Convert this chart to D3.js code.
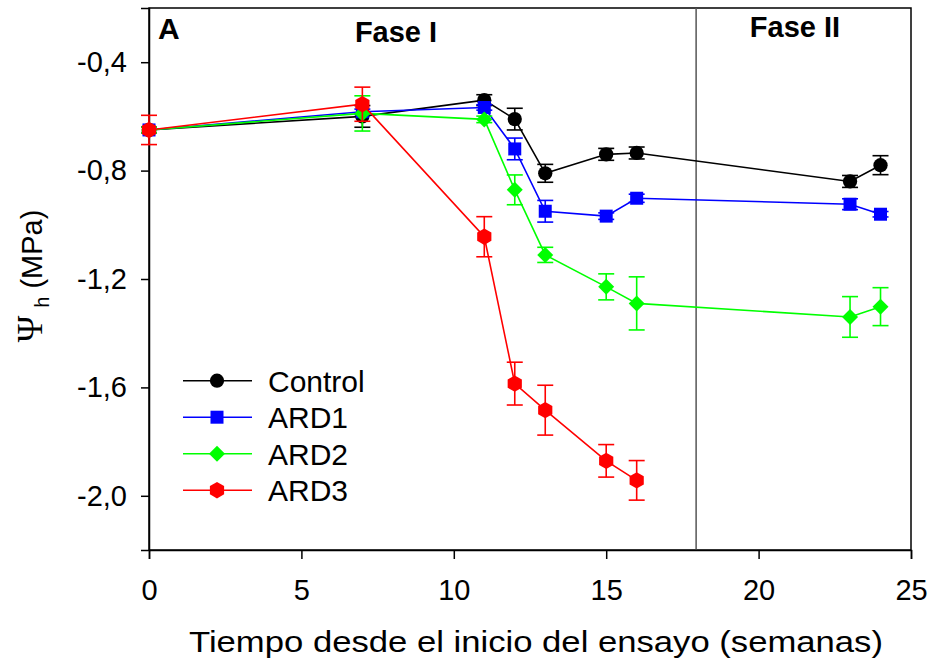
<!DOCTYPE html>
<html>
<head>
<meta charset="utf-8">
<script src="https://cdn.jsdelivr.net/npm/d3@7"></script>
<style>
  body { margin: 0; background: #fff; }
  text { font-family: "Liberation Sans", Arial, sans-serif; }
</style>
</head>
<body>
<script>
// weeks since start of trial
const weeks = [0, 7, 11, 12, 13, 15, 16, 23, 24];
const weeksArd3 = [0, 7, 11, 12, 13, 15, 16];

// water potential (MPa) and error
const control = [-0.65, -0.60, -0.54, -0.61, -0.81, -0.74, -0.735, -0.84, -0.78];
const controlErr = [0.01, 0.04, 0.02, 0.04, 0.033, 0.022, 0.022, 0.022, 0.035];
const ard1 = [-0.65, -0.583, -0.567, -0.72, -0.95, -0.968, -0.902, -0.924, -0.961];
const ard1Err = [0.01, 0.01, 0.01, 0.04, 0.04, 0.012, 0.015, 0.02, 0.01];
const ard2 = [-0.65, -0.589, -0.611, -0.871, -1.111, -1.229, -1.29, -1.34, -1.302];
const ard2Err = [0.01, 0.065, 0.012, 0.055, 0.028, 0.048, 0.098, 0.075, 0.07];
const ard3 = [-0.65, -0.555, -1.044, -1.586, -1.684, -1.871, -1.943];
const ard3Err = [0.054, 0.063, 0.074, 0.079, 0.092, 0.06, 0.073];

const xTicks = [0, 5, 10, 15, 20, 25];
const yTicks = [-0.4, -0.8, -1.2, -1.6, -2.0];
const phaseSplit = 17.95;

let margin = {top: 8, right: 22, bottom: 116, left: 149};
let width = 933 - margin.left - margin.right;
let height = 666 - margin.top - margin.bottom;

let x = d3.scaleLinear().domain([0, 25]).range([0, width]);
let y = d3.scaleLinear().domain([-2.2, -0.2]).range([height, 0]);

// custom marker shapes
const hexagon = {
  draw(ctx, size) {
    const r = Math.sqrt(size / 2.6);
    for (let i = 0; i < 6; i++) {
      const a = Math.PI / 2 + i * Math.PI / 3;
      const px = r * Math.cos(a), py = r * Math.sin(a);
      if (i === 0) ctx.moveTo(px, py); else ctx.lineTo(px, py);
    }
    ctx.closePath();
  }
};
const diamond = {
  draw(ctx, size) {
    const r = Math.sqrt(size / 2);
    ctx.moveTo(0, -r); ctx.lineTo(r, 0); ctx.lineTo(0, r); ctx.lineTo(-r, 0);
    ctx.closePath();
  }
};

const series = [
  {name: "Control", xs: weeks, ys: control, err: controlErr, color: "#000000", shape: d3.symbolCircle, size: 160},
  {name: "ARD1", xs: weeks, ys: ard1, err: ard1Err, color: "#0000ff", shape: d3.symbolSquare, size: 169},
  {name: "ARD2", xs: weeks, ys: ard2, err: ard2Err, color: "#00ff00", shape: diamond, size: 128},
  {name: "ARD3", xs: weeksArd3, ys: ard3, err: ard3Err, color: "#ff0000", shape: hexagon, size: 175}
];

var svg = d3.select("body").append("svg")
  .attr("width", 933)
  .attr("height", 666)
  .append("g")
  .attr("transform", "translate(" + margin.left + "," + margin.top + ")");

// frame
svg.append("rect")
  .attr("width", width).attr("height", height)
  .attr("fill", "none").attr("stroke", "#000").attr("stroke-width", 1.5);

// phase divider
svg.append("line")
  .attr("x1", x(phaseSplit)).attr("x2", x(phaseSplit))
  .attr("y1", 0).attr("y2", height)
  .attr("stroke", "#555").attr("stroke-width", 1.5);

// axes
let xAxis = svg.append("g")
  .attr("transform", "translate(0," + height + ")")
  .call(d3.axisBottom(x).tickValues(xTicks).tickSize(9).tickPadding(20).tickFormat(d3.format("d")));
let yAxis = svg.append("g")
  .call(d3.axisLeft(y).tickValues(yTicks).tickSize(8).tickPadding(14)
    .tickFormat(d => d3.format(".1f")(d).replace(".", ",").replace("−", "-")));

[xAxis, yAxis].forEach(a => {
  a.select(".domain").attr("stroke-width", 1.5);
  a.selectAll(".tick line").attr("stroke-width", 1.5);
  a.selectAll(".tick text").attr("font-size", 29).attr("fill", "#000")
    .attr("font-family", "'Liberation Sans', Arial, sans-serif");
});

// lines, error bars, markers
let line = d3.line().x(d => x(d[0])).y(d => y(d[1]));
let cap = 8;

series.forEach(s => {
  const pts = s.xs.map((w, i) => [w, s.ys[i], s.err[i]]);
  const g = svg.append("g");
  g.append("path")
    .attr("d", line(pts))
    .attr("fill", "none").attr("stroke", s.color).attr("stroke-width", 1.6);

  const eb = g.selectAll(".eb").data(pts).enter().append("g")
    .attr("stroke", s.color).attr("stroke-width", 1.6);
  eb.append("line")
    .attr("x1", d => x(d[0])).attr("x2", d => x(d[0]))
    .attr("y1", d => y(d[1] + d[2])).attr("y2", d => y(d[1] - d[2]));
  eb.append("line")
    .attr("x1", d => x(d[0]) - cap).attr("x2", d => x(d[0]) + cap)
    .attr("y1", d => y(d[1] + d[2])).attr("y2", d => y(d[1] + d[2]));
  eb.append("line")
    .attr("x1", d => x(d[0]) - cap).attr("x2", d => x(d[0]) + cap)
    .attr("y1", d => y(d[1] - d[2])).attr("y2", d => y(d[1] - d[2]));

  g.selectAll(".pt").data(pts).enter().append("path")
    .attr("d", d3.symbol().type(s.shape).size(s.size))
    .attr("transform", d => "translate(" + x(d[0]) + "," + y(d[1]) + ")")
    .attr("fill", s.color);
});

// annotations
svg.append("text").attr("x", 9).attr("y", 31)
  .attr("font-size", 30).attr("font-weight", "bold").text("A");
svg.append("text").attr("x", 247).attr("y", 34)
  .attr("text-anchor", "middle").attr("font-size", 29).attr("font-weight", "bold").text("Fase I");
svg.append("text").attr("x", 646).attr("y", 29)
  .attr("text-anchor", "middle").attr("font-size", 29).attr("font-weight", "bold").text("Fase II");

// legend
let legend = svg.append("g").attr("transform", "translate(34,372.7)");
series.forEach((s, i) => {
  const row = legend.append("g").attr("transform", "translate(0," + (i * 36.5) + ")");
  row.append("line").attr("x1", 0).attr("x2", 69).attr("y1", 0).attr("y2", 0)
    .attr("stroke", s.color).attr("stroke-width", 1.6);
  row.append("path").attr("d", d3.symbol().type(s.shape).size(s.size))
    .attr("transform", "translate(34,0)").attr("fill", s.color);
  row.append("text").attr("x", 85).attr("y", 0).attr("dy", "0.36em")
    .attr("font-size", 30).text(s.name);
});

// axis titles
svg.append("text")
  .attr("x", 387).attr("y", height + 102)
  .attr("text-anchor", "middle").attr("font-size", 30)
  .attr("textLength", 694).attr("lengthAdjust", "spacingAndGlyphs")
  .text("Tiempo desde el inicio del ensayo (semanas)");

let yt = svg.append("text")
  .attr("transform", "translate(-107," + (height / 2 - 3) + ") rotate(-90)")
  .attr("text-anchor", "middle").attr("font-size", 29);
yt.append("tspan").attr("font-family", "'Liberation Serif', serif").attr("font-size", 36).text("Ψ");
yt.append("tspan").attr("font-size", 20).attr("dx", 8).attr("dy", 7).text("h");
yt.append("tspan").attr("dy", -7).text(" (MPa)");
</script>
</body>
</html>
